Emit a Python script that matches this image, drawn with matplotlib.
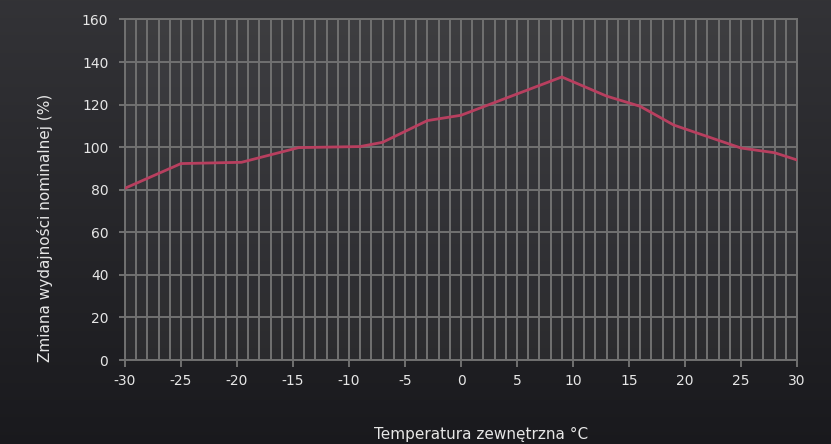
import numpy as np
import matplotlib
matplotlib.use("Agg")
import matplotlib.pyplot as plt
from matplotlib.ticker import MultipleLocator

temps = [-30, -25, -19.6, -14.5, -9, -7, -3, 0, 9, 13, 16, 19, 25, 28, 30]
capacity = [80.7, 92.3, 92.9, 99.8, 100.3, 102.3, 112.5, 115, 133, 124, 119.2, 110.4, 99.6, 97.4, 94]
x_ticks = [-30, -25, -20, -15, -10, -5, 0, 5, 10, 15, 20, 25, 30]
y_ticks = [0, 20, 40, 60, 80, 100, 120, 140, 160]
x_label = "Temperatura zewnętrzna °C"
y_label = "Zmiana wydajności nominalnej (%)"

plt.rcParams['font.family'] = ['DejaVu Sans']
plt.rcParams['axes.unicode_minus'] = False

W, H = 831, 444
fig = plt.figure(figsize=(W / 100, H / 100), dpi=100)

# background gradient (decoration)
g = np.linspace(0, 1, H)[:, None]
top = np.array([0.20, 0.20, 0.215])
bot = np.array([0.10, 0.10, 0.115])
bg = top[None, None, :] * (1 - g[:, :, None]) + bot[None, None, :] * g[:, :, None]
bg = np.repeat(bg, W, axis=1)
fig.figimage(bg, xo=0, yo=0, origin='upper', zorder=-5)

ax = fig.add_axes([125 / W, 1 - 360 / H, (797 - 125) / W, (360 - 19.5) / H])
ax.set_zorder(2)
ax.set_facecolor((1, 1, 1, 0.06))

gridc = '#717171'
ax.plot(temps, capacity, color='#b83f5f', lw=2, zorder=3, solid_joinstyle='miter')

ax.set_xlim(-30, 30)
ax.set_ylim(0, 160)
ax.set_xticks(x_ticks)
ax.set_yticks(y_ticks)
ax.xaxis.set_minor_locator(MultipleLocator(1))
ax.grid(True, which='both', axis='x', color=gridc, lw=1.4, zorder=1)
ax.grid(True, which='major', axis='y', color=gridc, lw=1.4, zorder=1)
for s in ax.spines.values():
    s.set_color(gridc)
    s.set_linewidth(1.4)
ax.tick_params(axis='x', which='major', colors=gridc, length=5, width=1.4, labelcolor='#e6e6e6',
               labelsize=10, pad=5)
ax.tick_params(axis='x', which='minor', length=0)
ax.tick_params(axis='y', colors=gridc, length=4, width=1.4, labelcolor='#e6e6e6', labelsize=10, pad=8)

fig.text(481 / W, 1 - 434 / H, x_label, color='#e6e6e6', fontsize=11, ha='center', va='center')
fig.text(45 / W, 1 - 228 / H, y_label, color='#e6e6e6', fontsize=11, ha='center', va='center',
         rotation=90)

fig.savefig('out.png', dpi=100)
